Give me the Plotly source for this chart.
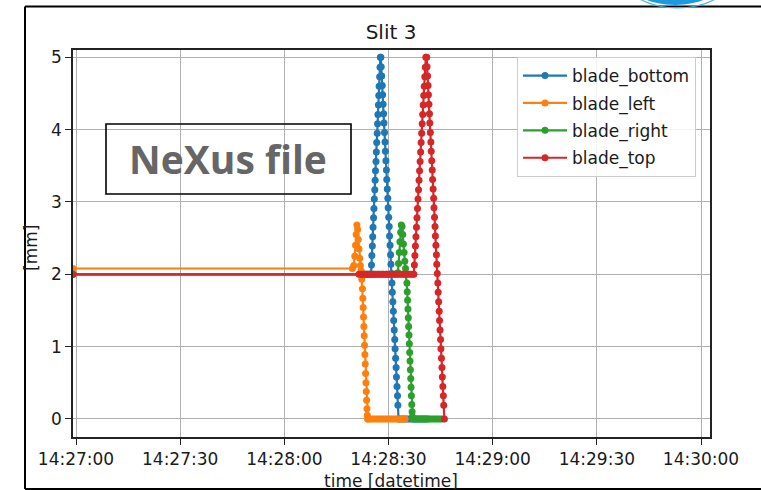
import pandas as pd
import plotly.graph_objects as go

# Blade positions of slit 3, time in seconds after 14:27:00, position in mm
start = pd.Timestamp("2021-11-25 14:27:00")

bottom_time = [-0.86, 82.0, 82.6, 83.2, 83.8, 84.4,
               85.0, 85.1, 85.2, 85.35, 85.45, 85.55, 85.7, 85.8, 85.9, 86.05, 86.15, 86.25,
               86.4, 86.5, 86.6, 86.75, 86.85, 86.95, 87.1, 87.2, 87.3, 87.45, 87.55, 87.65,
               87.8, 87.9, 88.05, 88.2, 88.3, 88.45, 88.6, 88.7, 88.85, 89.0, 89.1, 89.25, 89.4,
               89.5, 89.65, 89.8, 89.9, 90.05, 90.2, 90.3, 90.45, 90.6, 90.7, 90.85, 91.0, 91.1,
               91.25, 91.4, 91.5, 91.65, 91.8, 91.9, 92.05, 92.2, 92.3, 92.45, 92.6, 92.7, 92.9,
               93.5, 94.1, 94.7, 95.3, 95.9, 96.5, 97.1, 97.7, 98.3, 98.9, 99.5, 100.1, 100.7, 101.3]
bottom_mm = [2.0, 2.0, 2.0, 2.0, 2.0, 2.0,
             2.0, 2.13, 2.26, 2.39, 2.52, 2.65, 2.78, 2.91, 3.04, 3.17, 3.30, 3.43,
             3.56, 3.69, 3.82, 3.95, 4.08, 4.21, 4.34, 4.47, 4.60, 4.73, 4.86, 5.0,
             5.0, 4.87, 4.74, 4.61, 4.48, 4.35, 4.22, 4.09, 3.96, 3.83, 3.70, 3.57, 3.44,
             3.31, 3.18, 3.05, 2.92, 2.79, 2.66, 2.53, 2.40, 2.27, 2.14, 2.01, 1.88, 1.75,
             1.62, 1.49, 1.36, 1.23, 1.10, 0.97, 0.84, 0.71, 0.58, 0.45, 0.32, 0.19, 0.0,
             0.0, 0.0, 0.0, 0.0, 0.0, 0.0, 0.0, 0.0, 0.0, 0.0, 0.0, 0.0, 0.0, 0.0]

left_time = [-0.86, 79.6, 80.0, 80.3, 80.5, 80.7, 80.9, 81.1, 81.3, 81.5, 81.7, 81.9, 82.1,
             82.3, 82.5, 82.6, 82.7, 82.8, 82.9, 83.0, 83.1, 83.2, 83.3, 83.4, 83.5, 83.6,
             83.7, 83.8, 83.9, 84.0, 84.1,
             84.6, 85.2, 85.8, 86.4, 87.0, 87.6, 88.2, 88.8, 89.4, 90.0, 90.6, 91.2, 91.8,
             92.4, 93.0, 93.6, 94.2, 94.8]
left_mm = [2.08, 2.08, 2.12, 2.25, 2.40, 2.55, 2.68, 2.62, 2.48, 2.35, 2.22, 2.12, 2.05,
           1.93, 1.80, 1.67, 1.54, 1.41, 1.28, 1.15, 1.02, 0.89, 0.76, 0.63, 0.50, 0.38,
           0.26, 0.14, 0.05, 0.0, 0.0,
           0.0, 0.0, 0.0, 0.0, 0.0, 0.0, 0.0, 0.0, 0.0, 0.0, 0.0, 0.0, 0.0,
           0.0, 0.0, 0.0, 0.0, 0.0]

right_time = [-0.86, 82.3, 83.5, 84.7, 85.9, 87.1, 88.3, 89.5, 90.7, 91.9,
              92.7, 92.9, 93.1, 93.3, 93.5, 93.7, 93.9, 94.1, 94.3, 94.5, 94.7, 94.9, 95.1,
              95.3, 95.4, 95.5, 95.6, 95.7, 95.8, 95.9, 96.0, 96.1, 96.2, 96.3, 96.4, 96.5,
              96.6, 96.7, 96.8, 96.9, 97.0,
              97.6, 98.2, 98.8, 99.4, 100.0, 100.6, 101.2, 101.8, 102.4, 103.0, 103.6,
              104.2, 104.8, 105.4]
right_mm = [2.0, 2.0, 2.0, 2.0, 2.0, 2.0, 2.0, 2.0, 2.0, 2.0,
            2.02, 2.15, 2.30, 2.45, 2.58, 2.68, 2.66, 2.55, 2.42, 2.30, 2.18, 2.08, 2.0,
            1.88, 1.76, 1.64, 1.52, 1.40, 1.28, 1.16, 1.04, 0.92, 0.80, 0.68, 0.56, 0.44,
            0.32, 0.20, 0.10, 0.03, 0.0,
            0.0, 0.0, 0.0, 0.0, 0.0, 0.0, 0.0, 0.0, 0.0, 0.0, 0.0,
            0.0, 0.0, 0.0]

top_time = [-0.86, 81.5, 82.1, 82.7, 83.3, 83.9, 84.5, 85.1, 85.7, 86.3, 86.9, 87.5, 88.1,
            88.7, 89.3, 89.9, 90.5, 91.1, 91.7, 92.3, 92.9, 93.5, 94.1, 94.7, 95.3, 95.9,
            96.5, 97.1,
            97.3, 97.45, 97.6, 97.75, 97.9, 98.05, 98.2, 98.35, 98.5, 98.65, 98.8, 98.95,
            99.1, 99.25, 99.4, 99.55, 99.7, 99.85, 100.0, 100.15, 100.3, 100.45, 100.6, 100.75,
            101.0, 101.1, 101.25, 101.4, 101.5, 101.65, 101.8, 101.9, 102.05, 102.2, 102.3,
            102.45, 102.6, 102.7, 102.85, 103.0, 103.1, 103.25, 103.4, 103.5, 103.65, 103.8,
            103.9, 104.05, 104.2, 104.3, 104.45, 104.6, 104.7, 104.85, 105.0, 105.1, 105.25,
            105.4, 105.5, 105.65, 105.8, 105.9, 106.1]
top_mm = [2.0, 2.0, 2.0, 2.0, 2.0, 2.0, 2.0, 2.0, 2.0, 2.0, 2.0, 2.0, 2.0,
          2.0, 2.0, 2.0, 2.0, 2.0, 2.0, 2.0, 2.0, 2.0, 2.0, 2.0, 2.0, 2.0,
          2.0, 2.0,
          2.0, 2.13, 2.26, 2.39, 2.52, 2.65, 2.78, 2.91, 3.04, 3.17, 3.30, 3.43,
          3.56, 3.69, 3.82, 3.95, 4.08, 4.21, 4.34, 4.47, 4.60, 4.73, 4.86, 5.0,
          5.0, 4.87, 4.74, 4.61, 4.48, 4.35, 4.22, 4.09, 3.96, 3.83, 3.70,
          3.57, 3.44, 3.31, 3.18, 3.05, 2.92, 2.79, 2.66, 2.53, 2.40, 2.27,
          2.14, 2.01, 1.88, 1.75, 1.62, 1.49, 1.36, 1.23, 1.10, 0.97, 0.84,
          0.71, 0.58, 0.45, 0.32, 0.19, 0.0]

series_names = ["blade_bottom", "blade_left", "blade_right", "blade_top"]
series_time = [bottom_time, left_time, right_time, top_time]
series_mm = [bottom_mm, left_mm, right_mm, top_mm]
series_colors = ["#1f77b4", "#ff7f0e", "#2ca02c", "#d62728"]

x_ticks_s = [0, 30, 60, 90, 120, 150, 180]
y_ticks = [0, 1, 2, 3, 4, 5]


def to_time(secs):
    return start + pd.to_timedelta(pd.Series(secs, dtype=float), unit="s")


# plot-area box in pixels, used to place decorations in paper coordinates
L, R, T, B = 73, 710, 50, 437


def px(x):
    return (x - L) / (R - L)


def py(y):
    return (B - y) / (B - T)


FONT = "DejaVu Sans"
fig = go.Figure()
for name, t, v, c in zip(series_names, series_time, series_mm, series_colors):
    fig.add_trace(go.Scatter(
        x=to_time(t), y=v, name=name, legendgroup=name, mode="lines+markers",
        line=dict(color=c, width=2.2), marker=dict(color=c, size=7),
    ))

tick_vals = list(to_time(x_ticks_s))
fig.update_layout(
    width=761, height=490,
    margin=dict(l=L, r=761 - R, t=T, b=490 - B),
    paper_bgcolor="white", plot_bgcolor="white",
    font=dict(family=FONT, size=17, color="#1a1a1a"),
    title=dict(text="Slit 3", x=px(391), xref="paper", xanchor="center",
               y=1 - 32 / 490, yref="container", yanchor="middle",
               font=dict(family=FONT, size=20, color="#1a1a1a")),
    showlegend=True,
    legend=dict(x=px(517), y=py(57), xanchor="left", yanchor="top",
                bgcolor="rgba(255,255,255,0.85)", bordercolor="#cccccc", borderwidth=1,
                font=dict(family=FONT, size=17, color="#1a1a1a"),
                itemwidth=44, tracegroupgap=2.3),
    xaxis=dict(
        type="date",
        range=[to_time([-0.864])[0], to_time([182.59])[0]],
        tickvals=tick_vals, ticktext=[ts.strftime("%H:%M:%S") for ts in tick_vals],
        showgrid=True, gridcolor="#b0b0b0", gridwidth=1,
        showline=True, linecolor="#222222", linewidth=1.5, mirror=True,
        ticks="outside", ticklen=6, tickwidth=1.3, tickcolor="#222222",
        zeroline=False,
    ),
    yaxis=dict(
        range=[-0.249, 5.10],
        tickvals=y_ticks,
        showgrid=True, gridcolor="#b0b0b0", gridwidth=1,
        showline=True, linecolor="#222222", linewidth=1.5, mirror=True,
        ticks="outside", ticklen=6, tickwidth=1.3, tickcolor="#222222",
        zeroline=False,
    ),
)

# axis titles
fig.add_annotation(text="time [datetime]", xref="paper", yref="paper",
                   x=px(391), y=py(481), xanchor="center", yanchor="middle",
                   showarrow=False, font=dict(family=FONT, size=17, color="#1a1a1a"))
fig.add_annotation(text="[mm]", xref="paper", yref="paper", textangle=-90,
                   x=px(31), y=py(248), xanchor="center", yanchor="middle",
                   showarrow=False, font=dict(family=FONT, size=17, color="#1a1a1a"))

# "NeXus file" label box
fig.add_shape(type="rect", xref="paper", yref="paper",
              x0=px(106), x1=px(351), y0=py(194), y1=py(124),
              line=dict(color="black", width=1.6), fillcolor="rgba(0,0,0,0)")
fig.add_annotation(text="NeXus file", xref="paper", yref="paper",
                   x=px(228), y=py(158), xanchor="center", yanchor="middle",
                   showarrow=False,
                   font=dict(family="Open Sans", size=39, color="#666666", weight="bold"))

# slide frame
frame = dict(color="black", width=2)
fig.add_shape(type="line", xref="paper", yref="paper", x0=px(25), x1=px(770),
              y0=py(6.5), y1=py(6.5), line=frame)
fig.add_shape(type="line", xref="paper", yref="paper", x0=px(25), x1=px(25),
              y0=py(6.5), y1=py(489), line=frame)
fig.add_shape(type="line", xref="paper", yref="paper", x0=px(25), x1=px(770),
              y0=py(489), y1=py(489), line=frame)

# logo edge peeking in at the top
fig.add_shape(type="circle", xref="paper", yref="paper",
              x0=px(612), x1=px(743), y0=py(8), y1=py(-90),
              line=dict(color="#4fb3e8", width=1.2), fillcolor="rgba(0,0,0,0)")
fig.add_shape(type="circle", xref="paper", yref="paper",
              x0=px(628), x1=px(722), y0=py(5), y1=py(-45),
              line=dict(width=0), fillcolor="#1c9ae0")

fig.write_html("out.html")
